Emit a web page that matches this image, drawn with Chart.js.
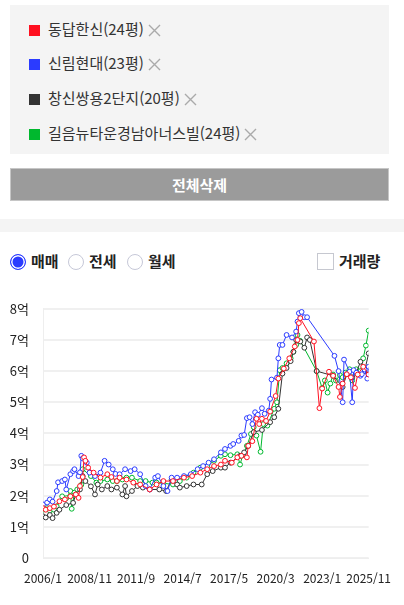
<!DOCTYPE html>
<html lang="ko">
<head>
  <meta charset="UTF-8">
  <title>시세 비교</title>
  <script src="https://cdn.jsdelivr.net/npm/chart.js"></script>
  <style>
    body {
      margin: 0;
      width: 404px;
      height: 605px;
      background: #fff;
      font-family: "Noto Sans CJK KR", "Noto Sans", sans-serif;
      color: #333;
      position: relative;
      overflow: hidden;
    }
    .picked {
      position: absolute;
      left: 10px; top: 5px;
      width: 379px; height: 149px;
      background: #f4f4f4;
    }
    .picked .item {
      position: absolute;
      left: 19px;
      height: 20px;
      line-height: 20px;
      font-size: 15px;
      white-space: nowrap;
    }
    .picked .sq {
      display: inline-block;
      width: 11px; height: 11px;
      margin-right: 8px;
      vertical-align: -1px;
    }
    .picked svg { vertical-align: -2px; margin-left: 4px; }
    .clear-btn {
      position: absolute;
      left: 10px; top: 168px;
      width: 377px; height: 31px;
      background: #9b9b9b;
      border: 1px solid #c6c6c6;
      color: #fff;
      font-weight: bold;
      font-size: 15px;
      text-align: center;
      line-height: 31px;
    }
    .band {
      position: absolute;
      left: 0; top: 219px;
      width: 404px; height: 13px;
      background: #f4f4f4;
    }
    .opts {
      position: absolute;
      top: 251px;
      height: 20px;
      line-height: 20px;
      font-size: 15px;
      font-weight: bold;
      color: #222;
      white-space: nowrap;
    }
    .radio {
      display: inline-block;
      box-sizing: border-box;
      width: 16px; height: 16px;
      border-radius: 50%;
      border: 1px solid #c6c8d8;
      background: #fff;
      vertical-align: -3px;
      margin-right: 5px;
    }
    .radio.on {
      border: 1px solid #2b3bff;
      background: #2b3bff;
      box-shadow: inset 0 0 0 1.5px #fff;
    }
    .check {
      display: inline-block;
      box-sizing: border-box;
      width: 17px; height: 17px;
      border: 1px solid #c6c8d0;
      background: #fff;
      vertical-align: -3px;
      margin-right: 5px;
    }
    #wrap {
      position: absolute;
      left: 0; top: 287px;
      width: 404px; height: 318px;
    }
  </style>
</head>
<body>
  <div class="picked" id="picked"></div>
  <div class="clear-btn">전체삭제</div>
  <div class="band"></div>

  <div class="opts" style="left:10px"><span class="radio on"></span>매매</div>
  <div class="opts" style="left:68px"><span class="radio"></span>전세</div>
  <div class="opts" style="left:127px"><span class="radio"></span>월세</div>
  <div class="opts" style="left:317px"><span class="check"></span>거래량</div>

  <div id="wrap"><canvas id="price-chart"></canvas></div>

  <script>
    // 단지 이름 / 색
    const complexNames = ["동답한신(24평)", "신림현대(23평)", "창신쌍용2단지(20평)", "길음뉴타운경남아너스빌(24평)"];
    const complexColors = ["#ff1020", "#2b3bff", "#333333", "#00b82e"];

    // x: months since 2006/1, y: 억
    const redMonths = [0, 2, 5, 8, 12, 16, 20, 24, 26, 27, 29, 30, 31, 33, 37, 42, 47, 50, 54, 56, 61, 66, 71, 78, 83, 88, 95, 103, 109, 115, 120, 125, 130, 133, 138, 142, 145, 149, 150, 153, 156, 158, 160, 163, 166, 170, 172, 176, 180, 184, 186, 187, 188, 198, 202, 204, 209, 212, 216, 217, 219, 222, 225, 228, 230, 234, 238];
    const redValues = [1.6, 1.55, 1.6, 1.65, 1.82, 1.88, 1.98, 2.04, 1.93, 2.31, 2.6, 3.23, 3.12, 2.9, 2.74, 2.58, 2.69, 2.6, 2.47, 2.58, 2.52, 2.42, 2.36, 2.2, 2.36, 2.47, 2.47, 2.58, 2.63, 2.74, 2.85, 2.95, 3.0, 3.12, 3.06, 3.23, 3.28, 3.23, 3.6, 3.75, 4.47, 4.3, 4.47, 4.4, 4.7, 5.2, 5.76, 6.08, 6.41, 6.79, 7.0, 7.54, 7.7, 6.95, 4.81, 5.44, 5.98, 5.85, 5.49, 5.17, 5.6, 5.9, 5.8, 5.46, 5.89, 6.14, 5.89];

    const blueMonths = [0, 3, 5, 7, 10, 11, 14, 16, 17, 20, 22, 23, 26, 27, 28, 29, 32, 34, 38, 42, 45, 48, 51, 53, 56, 60, 64, 67, 71, 75, 78, 82, 84, 88, 91, 94, 98, 103, 108, 113, 117, 121, 125, 130, 133, 137, 139, 143, 145, 147, 149, 151, 153, 155, 157, 160, 162, 165, 166, 167, 171, 172, 173, 175, 178, 182, 185, 186, 187, 189, 191, 193, 213, 216, 219, 220, 224, 226, 227, 229, 232, 233, 235, 237, 238];
    const blueValues = [1.72, 1.78, 1.88, 1.81, 2.15, 2.43, 2.47, 2.52, 2.2, 2.69, 2.79, 2.85, 2.63, 2.75, 3.28, 3.2, 3.06, 2.74, 2.63, 2.74, 3.12, 3.0, 2.85, 2.7, 2.69, 2.85, 2.79, 2.85, 2.69, 2.31, 2.2, 2.58, 2.63, 2.31, 2.15, 2.58, 2.58, 2.63, 2.69, 2.85, 2.95, 3.06, 3.17, 3.39, 3.5, 3.6, 3.66, 3.76, 3.93, 3.95, 4.49, 4.52, 4.3, 4.68, 4.6, 4.81, 4.63, 4.73, 5.11, 5.73, 5.79, 6.41, 6.84, 6.84, 7.16, 7.08, 7.27, 7.59, 7.86, 7.9, 7.73, 7.73, 6.49, 6.0, 5.0, 6.37, 5.98, 5.0, 6.03, 5.95, 5.85, 5.9, 6.05, 5.76, 6.14];

    const blackMonths = [0, 2, 5, 7, 10, 12, 17, 22, 24, 27, 29, 31, 35, 38, 40, 43, 47, 50, 54, 58, 60, 61, 65, 69, 73, 78, 85, 90, 94, 98, 100, 105, 110, 116, 120, 124, 130, 133, 137, 144, 147, 150, 154, 160, 166, 169, 172, 175, 178, 181, 183, 185, 188, 191, 193, 195, 200, 212, 219, 222, 226, 229, 232, 235, 238];
    const blackValues = [1.34, 1.3, 1.38, 1.28, 1.45, 1.55, 1.7, 1.77, 2.04, 2.2, 2.63, 2.47, 2.3, 2.04, 2.36, 2.2, 2.31, 2.2, 2.26, 2.04, 2.31, 1.98, 2.15, 2.31, 2.26, 2.2, 2.2, 2.15, 2.52, 2.36, 2.26, 2.31, 2.36, 2.36, 2.69, 2.79, 2.9, 2.9, 3.06, 3.28, 3.39, 3.6, 4.04, 4.11, 4.36, 4.52, 4.79, 5.92, 6.1, 6.32, 6.62, 7.0, 6.95, 6.75, 7.08, 7.0, 6.0, 5.85, 5.49, 5.9, 5.8, 5.95, 6.3, 6.0, 6.57];

    const greenMonths = [0, 3, 5, 8, 10, 14, 17, 20, 21, 23, 25, 28, 29, 35, 39, 42, 47, 51, 54, 58, 61, 65, 71, 75, 80, 83, 88, 95, 100, 105, 110, 115, 120, 125, 130, 133, 137, 142, 144, 146, 149, 152, 154, 156, 159, 161, 164, 169, 171, 173, 175, 178, 181, 183, 185, 186, 188, 200, 204, 206, 208, 210, 212, 214, 217, 219, 221, 224, 226, 229, 232, 234, 236, 238];
    const greenValues = [1.55, 1.6, 1.52, 1.55, 1.66, 1.98, 1.92, 2.15, 1.58, 2.1, 2.2, 2.35, 2.85, 2.63, 2.42, 2.47, 2.52, 2.47, 2.47, 2.52, 2.58, 2.58, 2.47, 2.47, 2.42, 2.42, 2.4, 2.36, 2.47, 2.58, 2.74, 2.9, 2.95, 3.12, 3.28, 3.33, 3.3, 3.33, 3.0, 3.3, 3.6, 3.98, 4.2, 3.93, 3.41, 4.3, 4.25, 4.79, 5.0, 6.03, 6.1, 6.25, 6.41, 6.62, 6.84, 7.16, 6.97, 6.0, 5.46, 5.7, 5.31, 5.6, 5.89, 5.7, 5.87, 5.8, 5.95, 6.06, 5.7, 6.06, 6.0, 6.41, 6.82, 7.3];

    const startYear = 2006;
    const xMax = 238;      // 2025/11
    const xStep = 34;
    const yTickLabels = ["0", "1억", "2억", "3억", "4억", "5억", "6억", "7억", "8억"];

    // legend box
    const picked = document.getElementById("picked");
    const rowTops = [14, 48, 83, 118];
    complexNames.forEach((name, i) => {
      const el = document.createElement("div");
      el.className = "item";
      el.style.top = rowTops[i] + "px";
      el.innerHTML = `<span class="sq" style="background:${complexColors[i]}"></span>${name}` +
        `<svg width="13" height="13"><path d="M1 1L12 12M12 1L1 12" stroke="#aaa" stroke-width="1.4"/></svg>`;
      picked.appendChild(el);
    });

    function toPoints(months, values) {
      return months.map((m, i) => ({ x: m, y: values[i] }));
    }

    const seriesData = [
      toPoints(redMonths, redValues),
      toPoints(blueMonths, blueValues),
      toPoints(blackMonths, blackValues),
      toPoints(greenMonths, greenValues),
    ];

    const datasets = complexNames.map((name, i) => ({
      label: name,
      data: seriesData[i],
      borderColor: complexColors[i],
      backgroundColor: "#fff",
      pointBackgroundColor: "#fff",
      pointBorderColor: complexColors[i],
      borderWidth: 1,
      pointBorderWidth: 1,
      pointRadius: 2.4,
      tension: 0,
    }));

    new Chart(document.getElementById("price-chart"), {
      type: "line",
      data: { datasets },
      options: {
        responsive: true,
        maintainAspectRatio: false,
        animation: false,
        layout: { padding: { top: 8, right: 35, bottom: 0, left: 0 } },
        plugins: { legend: { display: false }, tooltip: { enabled: false } },
        scales: {
          x: {
            type: "linear",
            min: 0,
            max: xMax,
            afterFit: (s) => { s.height = 47; },
            grid: { display: false, drawTicks: false },
            border: { display: true, color: "#eeeeee", width: 1 },
            ticks: {
              stepSize: xStep,
              autoSkip: false,
              maxRotation: 0,
              padding: 13,
              color: "#222",
              font: { family: "Noto Sans CJK KR", size: 12 },
              callback: (v) => `${startYear + Math.floor(v / 12)}/${(v % 12) + 1}`,
            },
          },
          y: {
            min: 0,
            max: 8,
            afterFit: (s) => { s.width = 43; },
            grid: { color: "#f0f0f0", lineWidth: 2, drawTicks: false },
            border: { display: true, color: "#eeeeee", width: 1 },
            ticks: {
              stepSize: 1,
              padding: 14,
              color: "#222",
              font: { family: "Noto Sans CJK KR", size: 13 },
              callback: (v) => yTickLabels[v],
            },
          },
        },
      },
    });
  </script>
</body>
</html>
